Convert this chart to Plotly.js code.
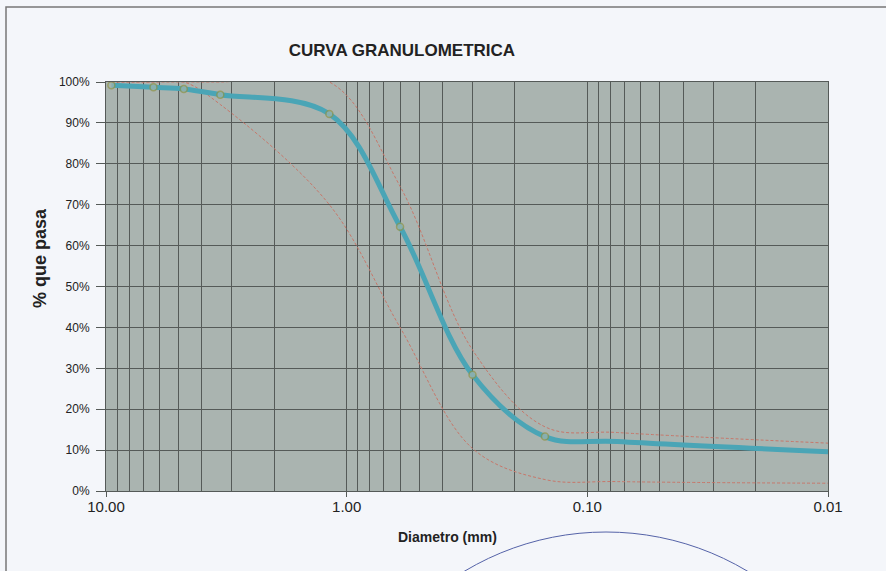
<!DOCTYPE html>
<html>
<head>
<meta charset="utf-8">
<script src="https://cdn.plot.ly/plotly-3.0.1.min.js"></script>
<style>
  html, body { margin: 0; padding: 0; background: #f4f6fa; }
  #chart { width: 886px; height: 571px; }
</style>
</head>
<body>
<div id="chart"></div>
<script>
// ---- Data ----
var sieveSizes   = [9.5, 6.35, 4.75, 3.35, 1.18, 0.6, 0.3, 0.15, 0.075, 0.01];   // mm
var percentPass  = [99.2, 98.7, 98.3, 96.9, 92.2, 64.6, 28.4, 13.3, 12.1, 9.6];  // %
var markerSizes  = [7, 7, 7, 7, 7, 7, 7, 7, 0, 0];

var upperLimit   = [100, 100, 100, 100, 100, 74.5, 34.5, 15.7, 14.3, 11.7];
var lowerLimit   = [100, 100, 100, 94.5, 70, 40, 10.4, 2.8, 2.3, 1.9];

var xTickVals    = [10, 1, 0.1, 0.01];
var xTickText    = ['10.00', '1.00', '0.10', '0.01'];
var minorDigits  = [9, 8, 7, 6, 5, 4, 3, 2];
var decades      = [1, 0.1, 0.01];

var minorVals = [];
decades.forEach(function (d) { minorDigits.forEach(function (m) { minorVals.push(m * d); }); });

var gridCol = '#555a58';
var font = 'Arial, "Liberation Sans", Helvetica, sans-serif';

var traces = [
  {
    x: sieveSizes, y: upperLimit, type: 'scatter', mode: 'lines',
    line: { color: '#c7776a', width: 1, dash: '3px,2px', shape: 'spline', smoothing: 1 },
    hoverinfo: 'skip', showlegend: false
  },
  {
    x: sieveSizes, y: lowerLimit, type: 'scatter', mode: 'lines',
    line: { color: '#c7776a', width: 1, dash: '3px,2px', shape: 'spline', smoothing: 1 },
    hoverinfo: 'skip', showlegend: false
  },
  {
    x: sieveSizes, y: percentPass, type: 'scatter', mode: 'lines+markers',
    line: { color: '#4aa5b6', width: 5, shape: 'spline', smoothing: 1 },
    marker: { size: markerSizes, color: '#a2b4ae', line: { color: '#8f9448', width: 1.5 } },
    showlegend: false
  }
];

var layout = {
  width: 886, height: 571,
  margin: { l: 106, r: 58, t: 82, b: 80 },
  paper_bgcolor: '#f4f6fa',
  plot_bgcolor: '#aab4b0',
  font: { family: font, color: '#222' },
  showlegend: false,
  title: {
    text: '<b>CURVA GRANULOMETRICA</b>',
    font: { family: font, size: 17, color: '#222' },
    x: 0.4537, xanchor: 'center',
    y: 1 - 50 / 571, yanchor: 'middle'
  },
  xaxis: {
    type: 'log',
    range: [1, -2],
    tickmode: 'array', tickvals: xTickVals, ticktext: xTickText,
    tickfont: { family: font, size: 15, color: '#222' },
    ticks: 'outside', ticklen: 5, tickcolor: gridCol, tickwidth: 1,
    ticklabelstandoff: -3,
    showgrid: true, gridcolor: gridCol, gridwidth: 1,
    minor: { tickmode: 'array', tickvals: minorVals, showgrid: true, gridcolor: gridCol, gridwidth: 1, ticks: '' },
    showline: true, linecolor: gridCol, linewidth: 1, mirror: true,
    zeroline: false
  },
  yaxis: {
    range: [0, 100], dtick: 10, ticksuffix: '%',
    tickfont: { family: font, size: 12, color: '#222' },
    ticks: 'outside', ticklen: 9, tickcolor: gridCol, tickwidth: 1,
    ticklabelstandoff: 4,
    showgrid: true, gridcolor: gridCol, gridwidth: 1,
    showline: true, linecolor: gridCol, linewidth: 1, mirror: true,
    zeroline: false
  },
  annotations: [
    {
      text: '<b>% que pasa</b>', xref: 'paper', yref: 'paper',
      x: (40 - 106) / 722, y: (491 - 258) / 409, xanchor: 'center', yanchor: 'middle',
      textangle: -90, showarrow: false, font: { family: font, size: 18, color: '#222' }
    },
    {
      text: '<b>Diametro (mm)</b>', xref: 'paper', yref: 'paper',
      x: (447 - 106) / 722, y: (491 - 537) / 409, xanchor: 'center', yanchor: 'middle',
      showarrow: false, font: { family: font, size: 14, color: '#222' }
    }
  ],
  shapes: [
    {
      type: 'rect', xref: 'paper', yref: 'paper',
      x0: (6 - 106) / 722, x1: 1.2, y0: -0.3, y1: (491 - 7) / 409,
      line: { color: '#777', width: 1.5 }, fillcolor: 'rgba(0,0,0,0)', layer: 'below'
    },
    {
      type: 'circle', xref: 'paper', yref: 'paper',
      x0: (331 - 106) / 722, x1: (881 - 106) / 722,
      y0: (491 - 1082) / 409, y1: (491 - 532) / 409,
      line: { color: '#5563a8', width: 1 }, fillcolor: 'rgba(0,0,0,0)'
    }
  ]
};

Plotly.newPlot('chart', traces, layout, { displayModeBar: false, staticPlot: true });
</script>
</body>
</html>
